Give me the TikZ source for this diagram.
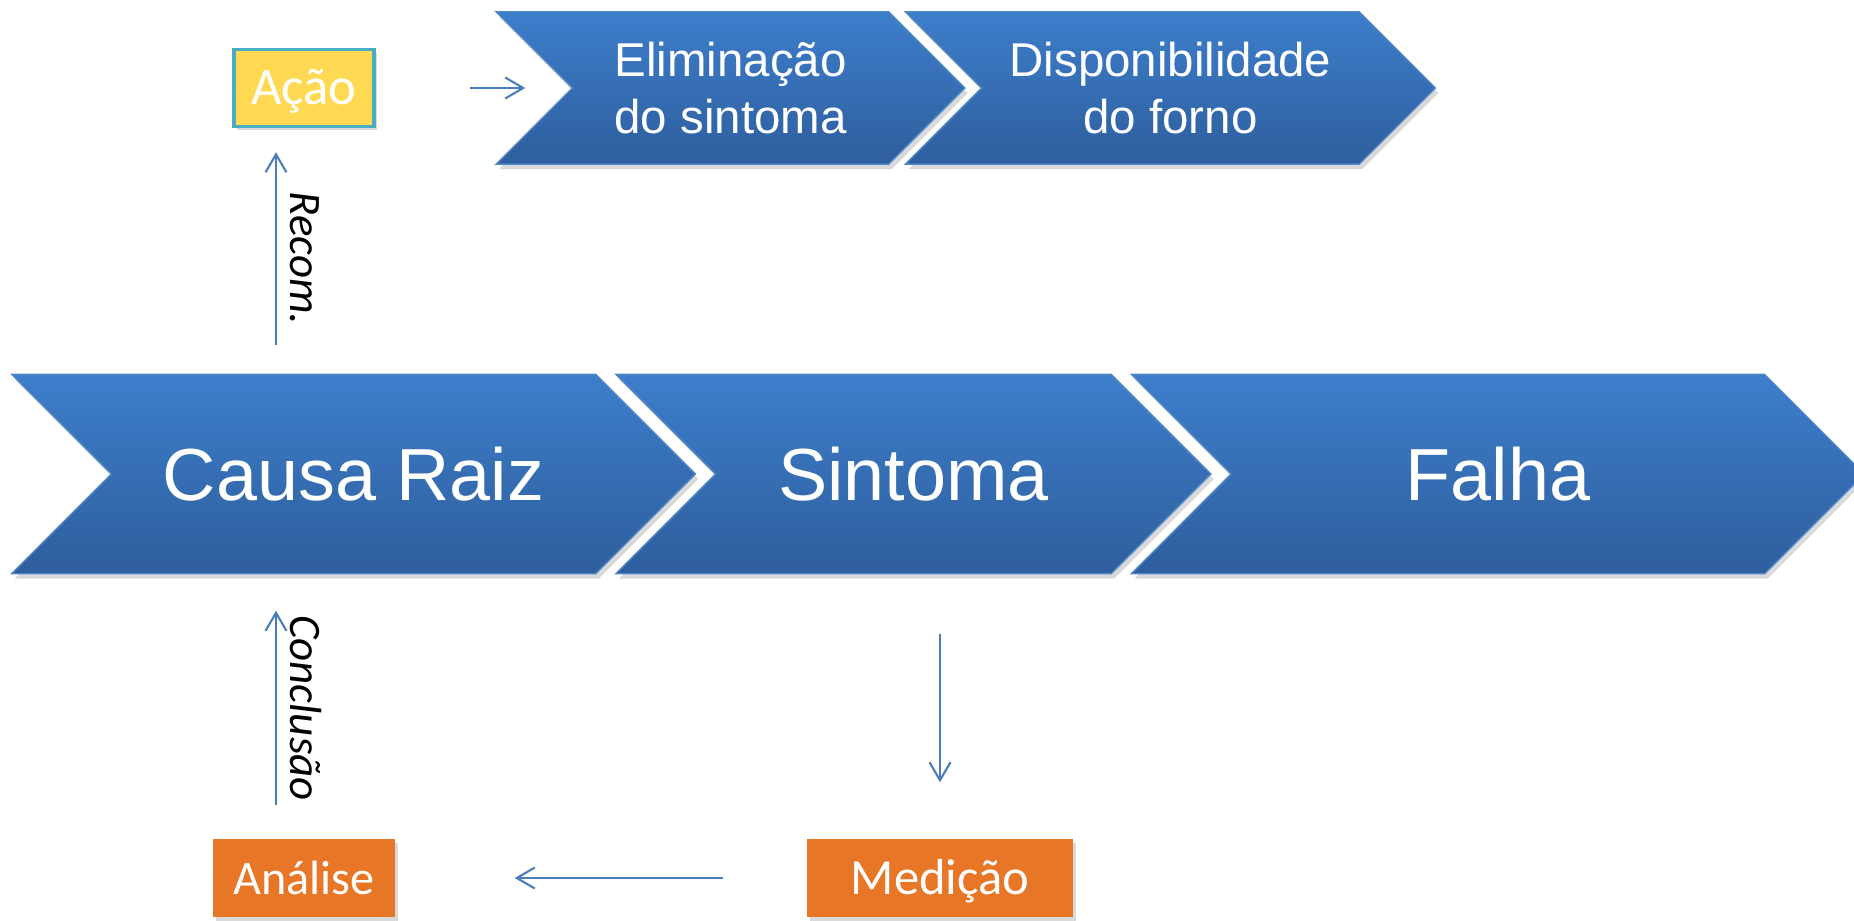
\documentclass[tikz,border=0pt]{standalone}
\usepackage{fontspec}
\setmainfont{Liberation Sans}
\newfontfamily\calibri{Carlito}
\usetikzlibrary{positioning,calc,arrows.meta,shadows,backgrounds}

\definecolor{chevtop}{HTML}{3D7ECB}
\definecolor{chevbot}{HTML}{2E5E9D}
\definecolor{chevline}{HTML}{4F86C6}
\definecolor{flowblue}{HTML}{4A7EBB}
\definecolor{acaoyellow}{HTML}{FFD952}
\definecolor{acaoline}{HTML}{4BACC6}
\definecolor{boxorange}{HTML}{E87627}

\begin{document}
\begin{tikzpicture}[
    flow/.style={draw=flowblue, line width=0.6pt, -{Straight Barb[length=1.8mm,width=2.1mm]}},
    chev/.style={inner sep=0pt, text=white, align=center},
    bigchev/.style={chev, minimum height=1.98cm, font=\fontsize{21}{25}\selectfont},
    smallchev/.style={chev, minimum height=1.51cm, font=\fontsize{13.5}{16.2}\selectfont},
    chevshape/.style={draw=chevline, line width=0.4pt, top color=chevtop, bottom color=chevbot,
      drop shadow={shadow xshift=0.03cm, shadow yshift=-0.05cm, opacity=0.3}},
    box/.style={minimum height=0.78cm, inner sep=0pt, text=white, text height=0.33cm, text depth=0pt,
      font=\calibri\fontsize{14.4}{17}\selectfont,
      drop shadow={shadow xshift=0.03cm, shadow yshift=-0.04cm, opacity=0.3}},
    lbl/.style={anchor=south, rotate=-90, inner sep=1.3mm, font=\calibri\itshape\fontsize{12.8}{15}\selectfont}
  ]
  \useasboundingbox (0,0) rectangle (18.54,9.20);

  \node[bigchev, minimum width=4.83cm] (causa) at (3.535,4.46) {Causa Raiz};
  \node[bigchev, minimum width=3.94cm, right=1.2cm of causa] (sintoma) {Sintoma};
  \node[bigchev, minimum width=5.32cm, right=1.2cm of sintoma] (falha) {Falha};
  \node[smallchev, minimum width=3.15cm] (elim) at (7.305,8.32) {Eliminação\\do sintoma};
  \node[smallchev, minimum width=3.76cm, right=0.93cm of elim] (disp) {Disponibilidade\\do forno};

  \begin{scope}[on background layer]
    \foreach \c in {causa,sintoma,falha,elim,disp}
      \path[chevshape] let \p1=(\c.north west), \p2=(\c.south east), \n1={(\y1-\y2)/2} in
        ({\x1-\n1},\y1) -- (\x2,\y1) -- ({\x2+\n1},{(\y1+\y2)/2}) -- (\x2,\y2)
        -- ({\x1-\n1},\y2) -- (\x1,{(\y1+\y2)/2}) -- cycle;
  \end{scope}

  \node[box, fill=acaoyellow, draw=acaoline, line width=1pt, minimum width=1.40cm, minimum height=0.77cm,
    font=\calibri\fontsize{15}{18}\selectfont] (acao) at (3.04,8.32) {Ação};
  \node[box, fill=boxorange, minimum width=1.82cm, font=\calibri\fontsize{13.7}{16}\selectfont] (analise) at (3.04,0.42) {Análise};
  \node[box, fill=boxorange, minimum width=2.66cm] (medicao) at (9.40,0.42) {Medição};

  \draw[flow, shorten <=0.94cm, shorten >=0.47cm] (acao) -- (elim);
  \draw[flow] ($(acao.south |- causa.north)+(-0.28,0.29)$) -- node[lbl, pos=0.45] {Recom.} ($(acao.south)+(-0.28,-0.24)$);
  \draw[flow] ($(analise.north)+(-0.28,0.33)$) -- node[lbl] {Conclusão} ($(analise.north |- causa.south)+(-0.28,-0.37)$);
  \draw[flow, shorten <=0.6cm, shorten >=0.56cm] (medicao.north |- sintoma.south) -- (medicao.north);
  \draw[flow, shorten <=0.83cm, shorten >=1.19cm] (medicao) -- (analise);
\end{tikzpicture}
\end{document}
